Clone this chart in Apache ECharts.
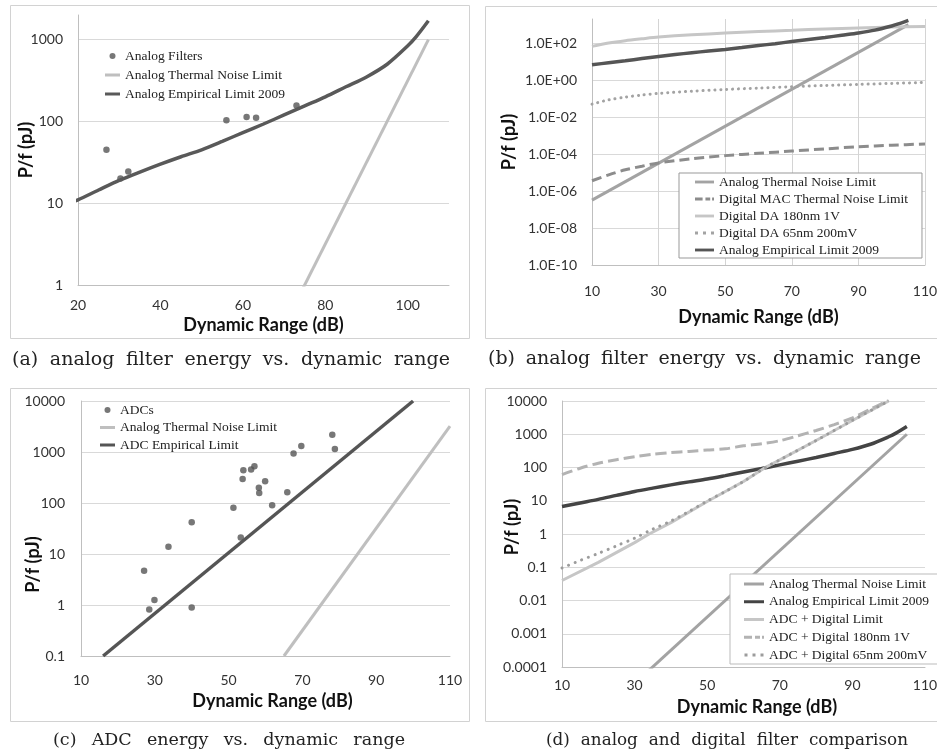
<!DOCTYPE html>
<html>
<head>
<meta charset="utf-8">
<title>Energy vs. dynamic range</title>
<script src="https://cdn.jsdelivr.net/npm/echarts@6/dist/echarts.min.js"></script>
<style>
  html, body { margin: 0; padding: 0; background: #fff; }
  .panel { position: absolute; }
</style>
</head>
<body>
<div id="panelA" class="panel" style="left:0;top:0;width:475px;height:378px"></div>
<div id="panelB" class="panel" style="left:475px;top:0;width:462px;height:378px"></div>
<div id="panelC" class="panel" style="left:0;top:378px;width:475px;height:378px"></div>
<div id="panelD" class="panel" style="left:475px;top:378px;width:462px;height:378px"></div>
<script>
// ---- data (dynamic range in dB, P/f in pJ) ----
var filterDR = [26.9, 30.3, 32.2, 56.0, 60.9, 63.2, 73.0];
var filterPf = [45, 20, 24.5, 103, 113, 111, 157];

var adcDR = [27.1, 28.5, 29.9, 33.7, 40.0, 40.0, 51.3, 53.3, 53.8, 54.0, 56.1, 57.0,
             58.2, 58.3, 59.9, 61.8, 65.9, 67.6, 69.7, 78.1, 78.8];
var adcPf = [4.7, 0.82, 1.25, 13.9, 42, 0.89, 81, 21, 295, 437, 452, 525,
             200, 157, 267, 90, 162, 933, 1310, 2190, 1150];

var empDR = [10, 15, 20, 25, 30, 35, 40, 45, 50, 55, 60, 65, 70, 75, 80, 85, 90, 95, 100, 102, 105];
var empPf = [6.7, 8.6, 11, 14.5, 19, 24, 30, 37, 45, 57, 73, 93, 120, 155, 200, 265, 350, 500, 840, 1080, 1700];

var thermalDR = [10, 105];
var thermalPf = [3.2e-7, 1000];
var thermalAdcDR = [65, 110];
var thermalAdcPf = [0.1, 3200];

var adcLimitDR = [16, 100];
var adcLimitPf = [0.1, 10000];

var digDR = [10, 15, 20, 25, 30, 40, 50, 60, 70, 80, 90, 100, 110];
var macPf = [3.6e-6, 7.5e-6, 1.4e-5, 2.2e-5, 3.3e-5, 5.6e-5, 8.2e-5, 1.1e-4, 1.45e-4, 1.9e-4, 2.5e-4, 3.0e-4, 3.5e-4];
var da180Pf = [66, 100, 135, 170, 210, 280, 345, 420, 490, 580, 660, 730, 780];
var da65Pf = [0.05, 0.085, 0.12, 0.155, 0.19, 0.25, 0.31, 0.37, 0.44, 0.51, 0.58, 0.66, 0.74];

var adcDigDR = [10, 20, 30, 34, 40, 50, 60, 66, 70, 80, 90, 100];
var adcDigPf = [0.04, 0.14, 0.55, 1.0, 2.2, 9.5, 38, 100, 170, 650, 2600, 10000];
var adc180DR = [10, 15, 20, 25, 30, 35, 40, 45, 50, 55, 60, 65, 70, 75, 80, 85, 90, 95, 100];
var adc180Pf = [61, 95, 135, 172, 212, 250, 280, 305, 335, 365, 450, 520, 640, 900, 1300, 1950, 3100, 5700, 10500];
var adc65DR = [10, 15, 20, 25, 30, 35, 40, 45, 50, 55, 60, 66, 70, 80, 90, 100];
var adc65Pf = [0.095, 0.16, 0.26, 0.44, 0.75, 1.4, 2.45, 4.8, 9.8, 19, 38, 100, 170, 650, 2600, 10000];

// ---- helpers ----
function pairs(xs, ys) {
  return xs.map(function (x, i) { return [x, ys[i]]; });
}
function plainLabel(v) {
  return String(Number(v.toPrecision(6)));
}
function sciLabel(v) {
  var e = Math.round(Math.log10(v));
  var a = Math.abs(e);
  return '1.0E' + (e < 0 ? '-' : '+') + (a < 10 ? '0' + a : a);
}

var tickFont = { fontFamily: 'Lato', fontSize: 14, color: '#333' };
var titleFont = { fontFamily: 'Lato', fontSize: 18, fontWeight: 'bold', color: '#111' };
var legendFont = { fontFamily: 'Liberation Serif', fontSize: 13.5, color: '#222' };

var ICON_SOLID = 'path://M0,0H20V3H0Z';
var ICON_SOLID15 = 'path://M0,0H15V3H0Z';
var ICON_DASH = 'path://M0,0H8V3H0Z M11,0H16V3H11Z M18,0H20V3H18Z';
var ICON_DOT = 'path://M0,0H3V3H0Z M8,0H11V3H8Z M16,0H19V3H16Z';

function xAxisCfg(min, max, c) {
  return {
    type: 'value', min: min, max: max, interval: 20,
    name: 'Dynamic Range (dB)', nameLocation: 'middle', nameGap: c.nameGap, nameMoveOverlap: false,
    nameTextStyle: Object.assign({ padding: c.namePad || 0 }, titleFont),
    axisLine: { show: true, lineStyle: { color: '#bfbfbf', width: 1 } },
    axisTick: { show: false },
    axisLabel: Object.assign({ margin: c.margin, showMaxLabel: c.showMax }, tickFont),
    splitLine: { show: !!c.vgrid, lineStyle: { color: '#d4d4d4', width: 1 } }
  };
}

function yAxisCfg(min, max, base, fmt, c) {
  return {
    type: 'log', logBase: base, min: min, max: max,
    name: 'P/f (pJ)', nameLocation: 'middle', nameGap: c.nameGap, nameMoveOverlap: false,
    nameTextStyle: Object.assign({ padding: c.namePad || 0 }, titleFont),
    axisLine: { show: true, lineStyle: { color: '#bfbfbf', width: 1 } },
    axisTick: { show: false },
    minorTick: { show: false },
    minorSplitLine: { show: false },
    axisLabel: Object.assign({ margin: c.margin, formatter: fmt, showMaxLabel: c.showMax, showMinLabel: true }, tickFont),
    splitLine: { show: true, showMaxLine: c.showMax !== false, lineStyle: { color: '#d9d9d9', width: 1 } }
  };
}

function line(name, data, color, dash, smooth, width) {
  return {
    name: name, type: 'line', data: data, symbol: 'none', smooth: smooth ? 0.3 : false,
    clip: true, silent: true, emphasis: { disabled: true },
    lineStyle: { color: color, width: width || 3, type: dash || 'solid', cap: (dash && dash[0] < 1) ? 'round' : 'butt' },
    itemStyle: { color: color }
  };
}

function dots(name, data) {
  return {
    name: name, type: 'scatter', data: data, symbol: 'circle', symbolSize: 6.5,
    silent: true, emphasis: { disabled: true },
    itemStyle: { color: '#555555' }
  };
}

// caption set as justified words between left and right, like the typeset sub-captions
var measureCtx = document.createElement('canvas').getContext('2d');
function caption(text, left, right, y, size) {
  measureCtx.font = size + 'px "DejaVu Serif"';
  var words = text.split(' ');
  var widths = words.map(function (w) { return measureCtx.measureText(w).width; });
  var total = widths.reduce(function (a, b) { return a + b; }, 0);
  var gap = (right - left - total) / (words.length - 1);
  var x = left;
  return words.map(function (w, i) {
    var el = { type: 'text', silent: true, x: x, y: y,
      style: { text: w, align: 'left', verticalAlign: 'middle',
               fontFamily: 'DejaVu Serif', fontSize: size, fill: '#222' } };
    x += widths[i] + gap;
    return el;
  });
}

function frame(x, y, w, h) {
  return { type: 'rect', silent: true, z: -1,
    shape: { x: x + 0.5, y: y + 0.5, width: w, height: h },
    style: { fill: 'none', stroke: '#d2d2d2', lineWidth: 1 } };
}

function gridCfg(l, t, w, h) {
  return { left: l, top: t, width: w, height: h, containLabel: false, outerBoundsMode: 'none' };
}

// ---- (a) analog filters ----
var chartA = echarts.init(document.getElementById('panelA'));
chartA.setOption({
  animation: false,
  graphic: [frame(10, 5, 459, 333)].concat(caption('(a) analog filter energy vs. dynamic range', 12, 450, 360, 19)),
  grid: gridCfg(78, 15, 371, 270),
  legend: {
    orient: 'vertical', left: 105, top: 49, padding: 0, itemWidth: 15, itemHeight: 6, itemGap: 5,
    selectedMode: false, textStyle: legendFont,
    data: [
      { name: 'Analog Filters', icon: 'circle' },
      { name: 'Analog Thermal Noise Limit', icon: ICON_SOLID15 },
      { name: 'Analog Empirical Limit 2009', icon: ICON_SOLID15 }
    ]
  },
  xAxis: xAxisCfg(20, 110, { nameGap: 31, margin: 13, showMax: false }),
  yAxis: yAxisCfg(1, 2000, 10, plainLabel, { nameGap: 43, margin: 15, showMax: false }),
  series: [
    dots('Analog Filters', pairs(filterDR, filterPf)),
    line('Analog Thermal Noise Limit', pairs(thermalDR, thermalPf), '#bfbfbf'),
    line('Analog Empirical Limit 2009', pairs(empDR, empPf), '#595959', null, true, 3.5)
  ]
});

// ---- (b) analog vs digital limits ----
var chartB = echarts.init(document.getElementById('panelB'));
chartB.setOption({
  animation: false,
  graphic: [frame(10, 6, 470, 332)].concat(caption('(b) analog filter energy vs. dynamic range', 13, 446, 359, 19)),
  grid: gridCfg(117, 19, 333, 246),
  legend: {
    orient: 'vertical', left: 204, top: 173, padding: [2, 14, 1, 16],
    itemWidth: 19, itemHeight: 3, itemGap: 3,
    backgroundColor: '#fff', borderColor: '#999', borderWidth: 1,
    selectedMode: false, textStyle: legendFont,
    data: [
      { name: 'Analog Thermal Noise Limit', icon: ICON_SOLID },
      { name: 'Digital MAC Thermal Noise Limit', icon: ICON_DASH },
      { name: 'Digital DA 180nm 1V', icon: ICON_SOLID },
      { name: 'Digital DA 65nm 200mV', icon: ICON_DOT },
      { name: 'Analog Empirical Limit 2009', icon: ICON_SOLID }
    ]
  },
  xAxis: xAxisCfg(10, 110, { nameGap: 43, margin: 19, showMax: true, vgrid: true }),
  yAxis: yAxisCfg(1e-10, 2000, 100, sciLabel, { nameGap: 74, margin: 15, showMax: false }),
  series: [
    line('Analog Thermal Noise Limit', pairs(thermalDR, thermalPf), '#a3a3a3'),
    line('Digital MAC Thermal Noise Limit', pairs(digDR, macPf), '#8c8c8c', [10, 5], true),
    line('Digital DA 180nm 1V', pairs(digDR, da180Pf), '#c6c6c6', null, true),
    line('Digital DA 65nm 200mV', pairs(digDR, da65Pf), '#a3a3a3', [0.1, 5.8], true),
    line('Analog Empirical Limit 2009', pairs(empDR, empPf), '#555555', null, true, 3.5)
  ]
});

// ---- (c) ADCs ----
var chartC = echarts.init(document.getElementById('panelC'));
chartC.setOption({
  animation: false,
  graphic: [frame(10, 10, 459, 333)].concat(caption('(c) ADC energy vs. dynamic range', 53, 405, 362, 17.5)),
  grid: gridCfg(81, 23, 369, 255),
  legend: {
    orient: 'vertical', left: 100, top: 25, padding: 0, itemWidth: 15, itemHeight: 6, itemGap: 3.5,
    selectedMode: false, textStyle: legendFont,
    data: [
      { name: 'ADCs', icon: 'circle' },
      { name: 'Analog Thermal Noise Limit', icon: ICON_SOLID15 },
      { name: 'ADC Empirical Limit', icon: ICON_SOLID15 }
    ]
  },
  xAxis: xAxisCfg(10, 110, { nameGap: 36, margin: 17, showMax: true, namePad: [0, 0, 0, 14] }),
  yAxis: yAxisCfg(0.1, 10000, 10, plainLabel, { nameGap: 39, margin: 16, showMax: true, namePad: [0, 72, 0, 0] }),
  series: [
    dots('ADCs', pairs(adcDR, adcPf)),
    line('Analog Thermal Noise Limit', pairs(thermalAdcDR, thermalAdcPf), '#bfbfbf'),
    line('ADC Empirical Limit', pairs(adcLimitDR, adcLimitPf), '#555555', null, false, 3.5)
  ]
});

// ---- (d) analog and digital comparison ----
var chartD = echarts.init(document.getElementById('panelD'));
chartD.setOption({
  animation: false,
  graphic: [frame(10, 10, 470, 333)].concat(caption('(d) analog and digital filter comparison', 71, 433, 363, 16.8)),
  grid: gridCfg(87, 23, 363, 266),
  legend: {
    orient: 'vertical', left: 255, top: 196, padding: [3, 14, 2, 14],
    itemWidth: 20, itemHeight: 3, itemGap: 3.75,
    backgroundColor: '#fff', borderColor: '#bbb', borderWidth: 1,
    selectedMode: false, textStyle: legendFont,
    data: [
      { name: 'Analog Thermal Noise Limit', icon: ICON_SOLID },
      { name: 'Analog Empirical Limit 2009', icon: ICON_SOLID },
      { name: 'ADC + Digital Limit', icon: ICON_SOLID },
      { name: 'ADC + Digital 180nm 1V', icon: ICON_DASH },
      { name: 'ADC + Digital 65nm 200mV', icon: ICON_DOT }
    ]
  },
  xAxis: xAxisCfg(10, 110, { nameGap: 31, margin: 11, showMax: true, namePad: [0, 0, 0, 27] }),
  yAxis: yAxisCfg(0.0001, 10000, 10, plainLabel, { nameGap: 41, margin: 15, showMax: true, namePad: [0, 0, 0, 14] }),
  series: [
    line('Analog Thermal Noise Limit', pairs(thermalDR, thermalPf), '#a3a3a3'),
    line('Analog Empirical Limit 2009', pairs(empDR, empPf), '#444444', null, true, 3.5),
    line('ADC + Digital Limit', pairs(adcDigDR, adcDigPf), '#c6c6c6'),
    line('ADC + Digital 180nm 1V', pairs(adc180DR, adc180Pf), '#b3b3b3', [11, 5], true),
    line('ADC + Digital 65nm 200mV', pairs(adc65DR, adc65Pf), '#9c9c9c', [0.1, 7], true)
  ]
});
</script>
</body>
</html>
